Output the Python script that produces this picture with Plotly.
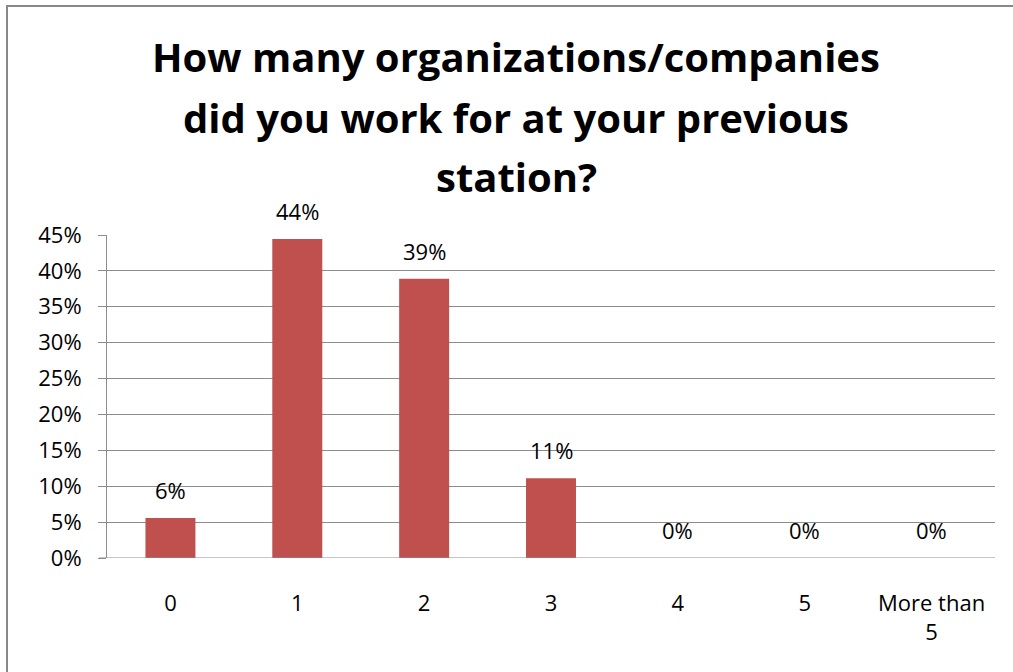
import plotly.graph_objects as go

# Survey answers: number of organizations worked for at the previous station
categories = ["0", "1", "2", "3", "4", "5", "More than 5"]
tick_text = ["0", "1", "2", "3", "4", "5", "More than<br>5"]
shares = [1 / 18, 8 / 18, 7 / 18, 2 / 18, 0.0, 0.0, 0.0]
y_ticks = [0, 0.05, 0.10, 0.15, 0.20, 0.25, 0.30, 0.35, 0.40, 0.45]
title_lines = [
    "How many organizations/companies",
    "did you work for at your previous",
    "station?",
]

BAR_COLOR = "#C0504D"
GRID_COLOR = "#8C8C8C"
FONT = "Open Sans"

MARGIN_L, MARGIN_R, MARGIN_T, MARGIN_B = 107, 18, 235, 114
PLOT_H = 672 - MARGIN_T - MARGIN_B
PLOT_W = 1013 - MARGIN_L - MARGIN_R


def px_to_paper_y(py):
    return 1 + (MARGIN_T - py) / PLOT_H


def px_to_paper_x(px):
    return (px - MARGIN_L) / PLOT_W


fig = go.Figure(
    go.Bar(
        x=categories,
        y=shares,
        marker=dict(color=BAR_COLOR, line=dict(width=0)),
        hoverinfo="skip",
    )
)

# Percentage labels above each bar
for cat, val in zip(categories, shares):
    fig.add_annotation(
        x=cat, y=val, xref="x", yref="y",
        text=f"{val:.0%}",
        showarrow=False, yanchor="bottom", yshift=11,
        font=dict(family=FONT, size=22, color="#000000"),
    )

# Chart title, one annotation per line
for line, center_y in zip(title_lines, [57, 117, 176]):
    fig.add_annotation(
        x=px_to_paper_x(516), y=px_to_paper_y(center_y),
        xref="paper", yref="paper",
        xanchor="center", yanchor="middle",
        text=f"<b>{line}</b>",
        showarrow=False,
        font=dict(family=FONT, size=40, color="#000000"),
    )

fig.update_layout(
    width=1013, height=672,
    margin=dict(l=MARGIN_L, r=MARGIN_R, t=MARGIN_T, b=MARGIN_B),
    paper_bgcolor="white", plot_bgcolor="white",
    bargap=0.606,
    showlegend=False,
    font=dict(family=FONT, size=22, color="#000000"),
    shapes=[
        # chart frame (left and top edges)
        dict(type="line", xref="paper", yref="paper",
             x0=px_to_paper_x(7), x1=px_to_paper_x(7),
             y0=px_to_paper_y(680), y1=px_to_paper_y(6),
             line=dict(color="#888888", width=2)),
        dict(type="line", xref="paper", yref="paper",
             x0=px_to_paper_x(6), x1=px_to_paper_x(1020),
             y0=px_to_paper_y(6), y1=px_to_paper_y(6),
             line=dict(color="#888888", width=2)),
        # 0% baseline extends left under the tick marks
        dict(type="line", xref="paper", yref="y",
             x0=-8 / PLOT_W, x1=1, y0=0, y1=0,
             line=dict(color=GRID_COLOR, width=1)),
    ],
)

fig.update_yaxes(
    range=[0, 0.45], tickvals=y_ticks, tickformat=".0%",
    showgrid=True, gridcolor=GRID_COLOR, gridwidth=1,
    showline=True, linecolor=GRID_COLOR, linewidth=1,
    ticks="outside", ticklen=8, tickcolor=GRID_COLOR,
    zeroline=False, ticklabelstandoff=12,
    tickfont=dict(family=FONT, size=22),
)
fig.update_xaxes(
    tickvals=categories, ticktext=tick_text,
    showgrid=False, showline=False, ticks="",
    tickfont=dict(family=FONT, size=22),
    ticklabelstandoff=30,
)

# keep the page itself from scrolling
page_js = (
    "document.documentElement.style.overflow='hidden';"
    "document.body.style.overflow='hidden';"
    "document.body.style.margin='0';"
)

fig.write_html("out.html", config={"displayModeBar": False}, post_script=page_js)
